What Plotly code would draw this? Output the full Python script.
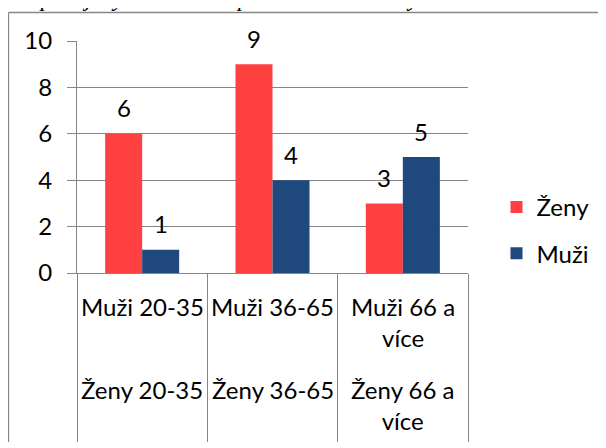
import plotly.graph_objects as go

categories = ["c1", "c2", "c3"]
labels_muzi = ["Muži 20-35", "Muži 36-65", "Muži 66 a<br>více"]
labels_zeny = ["Ženy 20-35", "Ženy 36-65", "Ženy 66 a<br>více"]
series_names = ["Ženy", "Muži"]
zeny_values = [6, 9, 3]
muzi_values = [1, 4, 5]
y_ticks = [0, 2, 4, 6, 8, 10]
title_text = "nespokojených na úseku pečovatelské služby"

colors = ["#FF4040", "#1F497D"]
FONT = "Lato"
FS = 24
GRAY = "#868686"

# page body has an 8px margin: figure placed at (8, 8)
OFF = 8
W, H = 606 - OFF, 448 - OFF
PLOT_X0, PLOT_X1, PLOT_Y0, PLOT_Y1 = 77, 468, 41, 273  # in page pixels
L = PLOT_X0 - OFF
R = W - (PLOT_X1 - OFF)
T = PLOT_Y0 - OFF
B = H - (PLOT_Y1 - OFF)
PW = W - L - R
PH = H - T - B
BARGAP = 0.432


def px_x(px):
    return (px - PLOT_X0) / PW


def px_y(py):
    return (PLOT_Y1 - py) / PH


fig = go.Figure()
for name, vals, col in zip(series_names, [zeny_values, muzi_values], colors):
    fig.add_trace(go.Bar(
        x=categories, y=vals, name=name, marker=dict(color=col, line=dict(width=0)),
        legendgroup=name, hoverinfo="skip",
    ))

# data labels
cat_w = PW / len(categories)
bar_w = cat_w * (1 - BARGAP) / 2
annotations = []
for si, vals in enumerate([zeny_values, muzi_values]):
    shift = (si - 0.5) * bar_w
    for c, v in zip(categories, vals):
        annotations.append(dict(
            x=c, y=v, xref="x", yref="y", text=str(v), showarrow=False,
            xshift=shift, yshift=26, yanchor="middle", xanchor="center",
            font=dict(family=FONT, size=FS, color="black"),
        ))

# category labels (two rows)
for c, m, z in zip(categories, labels_muzi, labels_zeny):
    annotations.append(dict(x=c, xref="x", y=px_y(290), yref="paper", text=m,
                            showarrow=False, yanchor="top", xanchor="center",
                            font=dict(family=FONT, size=FS, color="black")))
    annotations.append(dict(x=c, xref="x", y=px_y(373), yref="paper", text=z,
                            showarrow=False, yanchor="top", xanchor="center",
                            font=dict(family=FONT, size=FS, color="black")))

# clipped title
annotations.append(dict(x=px_x(8), y=px_y(13), xref="paper", yref="paper",
                        text="<i>" + title_text + "</i>", showarrow=False,
                        xanchor="left", yanchor="bottom",
                        font=dict(family="Liberation Serif", size=23, color="black")))

# outer chart-area border (left and top edges visible)
shapes = [
    dict(type="line", xref="paper", yref="paper",
         x0=px_x(8.5), x1=px_x(8.5), y0=px_y(442), y1=px_y(12.5),
         line=dict(color=GRAY, width=1.3)),
    dict(type="line", xref="paper", yref="paper",
         x0=px_x(8.5), x1=px_x(640), y0=px_y(12.5), y1=px_y(12.5),
         line=dict(color=GRAY, width=1.3)),
]

fig.update_layout(
    width=W, height=H,
    margin=dict(l=L, r=R, t=T, b=B, pad=0, autoexpand=False),
    paper_bgcolor="white", plot_bgcolor="white",
    barmode="group", bargap=BARGAP, bargroupgap=0,
    font=dict(family=FONT, size=FS, color="black"),
    showlegend=True,
    legend=dict(x=px_x(496.5), y=px_y(185), xanchor="left", yanchor="top",
                xref="paper", yref="paper", tracegroupgap=12,
                font=dict(family=FONT, size=FS, color="black"),
                bgcolor="rgba(0,0,0,0)", borderwidth=0),
    annotations=annotations,
    shapes=shapes,
)
fig.update_xaxes(type="category", showline=True, linecolor=GRAY, linewidth=1,
                 ticks="outside", tickson="boundaries", ticklen=168, tickcolor=GRAY,
                 tickwidth=1, showticklabels=False, showgrid=False, zeroline=False,
                 fixedrange=True)
fig.update_yaxes(range=[0, 10], tickvals=y_ticks, ticktext=[str(t) for t in y_ticks],
                 showline=True, linecolor=GRAY, linewidth=1,
                 ticks="outside", ticklen=9, tickcolor=GRAY, tickwidth=1,
                 showgrid=True, gridcolor=GRAY, gridwidth=1, zeroline=False,
                 ticklabelstandoff=10, tickfont=dict(family=FONT, size=FS, color="black"),
                 fixedrange=True)

fig.write_html("out.html")
